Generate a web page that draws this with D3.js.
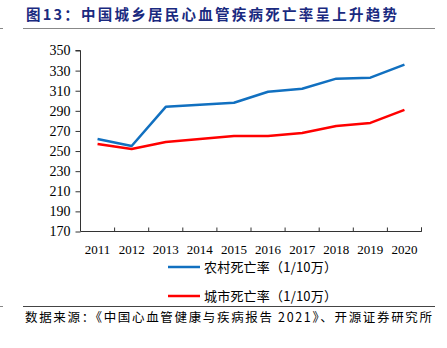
<!DOCTYPE html>
<html><head><meta charset="utf-8">
<script src="https://cdn.jsdelivr.net/npm/d3@7"></script>
<style>body{margin:0;background:#fff}svg{display:block}</style>
</head><body><svg id="c" width="447" height="348"></svg>
<script>
const years = ["2011","2012","2013","2014","2015","2016","2017","2018","2019","2020"];
const rural = [262,255,294,296,298,309,312,322,323,336];
const urban = [257,252,259,262,265,265,268,275,278,291];
const yTicks = [170,190,210,230,250,270,290,310,330,350];
const seriesNames = ["农村死亡率（1/10万）","城市死亡率（1/10万）"];
const colors = ["#1170c0","#ff0000"];
const title = "图13：中国城乡居民心血管疾病死亡率呈上升趋势";
const source = "数据来源：《中国心血管健康与疾病报告 2021》、开源证券研究所";

const svg = d3.select("#c");
const serif = "'Liberation Serif','Noto Sans CJK SC',serif";
const cjk = "'Noto Sans CJK SC','Liberation Serif',sans-serif";

// title
svg.append("text").attr("x",26).attr("y",20).attr("font-family",cjk).attr("font-weight","bold")
  .attr("font-size",14.5).attr("fill","#1a2a80")
  .attr("textLength",371).attr("lengthAdjust","spacing").text(title);
svg.append("line").attr("x1",23).attr("x2",435).attr("y1",28.5).attr("y2",28.5).attr("stroke","#888").attr("stroke-width",1.2);
svg.append("line").attr("x1",0).attr("x2",3).attr("y1",28.5).attr("y2",28.5).attr("stroke","#888");
svg.append("line").attr("x1",23).attr("x2",435).attr("y1",306.5).attr("y2",306.5).attr("stroke","#444").attr("stroke-width",1);
svg.append("line").attr("x1",0).attr("x2",3).attr("y1",306.5).attr("y2",306.5).attr("stroke","#888");

const x = d3.scaleBand().domain(years).range([80.5,421.5]);
const y = d3.scaleLinear().domain([170,350]).range([231.5,50.5]);

// y axis
const ya = svg.append("g").attr("transform","translate(80.5,0)")
  .call(d3.axisLeft(y).tickValues(yTicks).tickSize(5).tickPadding(5).tickFormat(d3.format("d")));
ya.select(".domain").attr("d","M-5,50.5H0V231.5").attr("stroke","#333");
ya.selectAll("line").attr("stroke","#333");
ya.selectAll("text").attr("font-family",serif).attr("font-size",14).attr("fill","#000");

// x axis
const xa = svg.append("g").attr("transform","translate(0,231.5)")
  .call(d3.axisBottom(x).tickSize(0).tickPadding(13));
xa.select(".domain").attr("d","M80.5,0H421.5V-4").attr("stroke","#333");
xa.selectAll("text").attr("font-family",serif).attr("font-size",13).attr("fill","#000");
const bounds = years.map(d=>x(d)).concat([x.range()[1]]);
xa.selectAll(".btick").data(bounds.slice(1)).join("line").attr("class","btick")
  .attr("x1",d=>d).attr("x2",d=>d).attr("y1",0).attr("y2",-4).attr("stroke","#333");

const line = d3.line().x((d,i)=>x(years[i])+x.bandwidth()/2).y(d=>y(d));
[rural,urban].forEach((s,k)=>{
  svg.append("path").datum(s).attr("d",line).attr("fill","none")
    .attr("stroke",colors[k]).attr("stroke-width",2.5).attr("stroke-linejoin","round");
});

// legend
seriesNames.forEach((n,k)=>{
  const ly = 267 + k*29;
  svg.append("line").attr("x1",168).attr("x2",200).attr("y1",ly).attr("y2",ly)
    .attr("stroke",colors[k]).attr("stroke-width",2.5);
  svg.append("text").attr("x",204).attr("y",ly+4.5).attr("font-family",cjk)
    .attr("font-size",13).attr("textLength",133).attr("lengthAdjust","spacing")
    .attr("fill","#000").text(n);
});

svg.append("text").attr("x",25).attr("y",322).attr("font-family",cjk)
  .attr("font-size",12.5).attr("textLength",407).attr("lengthAdjust","spacing")
  .attr("fill","#000").text(source);
</script></body></html>
